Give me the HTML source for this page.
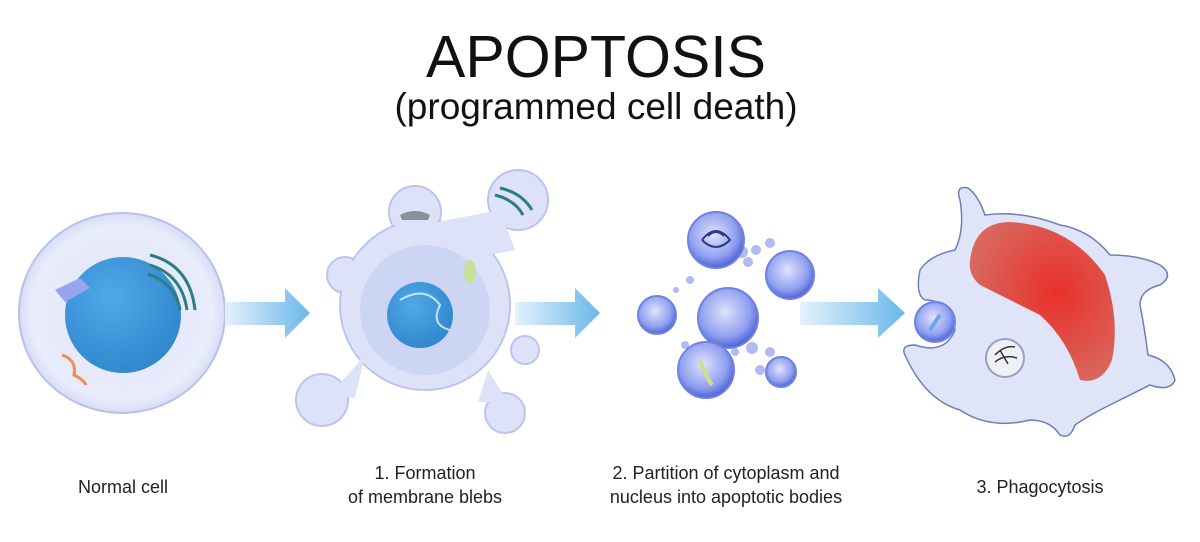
<!DOCTYPE html>
<html><head><meta charset="utf-8"><style>
body{margin:0;background:#fff;width:1200px;height:537px;overflow:hidden;font-family:"Liberation Sans",sans-serif}
</style></head><body>
<svg width="1200" height="537" viewBox="0 0 1200 537" xmlns="http://www.w3.org/2000/svg">
<defs>
<radialGradient id="cyto" cx="50%" cy="50%" r="55%"><stop offset="0" stop-color="#dfe4fa"/><stop offset="0.8" stop-color="#e8ecfb"/><stop offset="1" stop-color="#c9d1f2"/></radialGradient>
<radialGradient id="nuc" cx="40%" cy="35%" r="70%"><stop offset="0" stop-color="#4fa9e8"/><stop offset="1" stop-color="#2f86cc"/></radialGradient>
<radialGradient id="bub" cx="45%" cy="40%" r="60%"><stop offset="0" stop-color="#dfe3fb"/><stop offset="0.7" stop-color="#8f9ff0"/><stop offset="1" stop-color="#4d62d6"/></radialGradient>
<radialGradient id="red" cx="60%" cy="45%" r="60%"><stop offset="0" stop-color="#e8302a"/><stop offset="1" stop-color="#d9675e"/></radialGradient>
<linearGradient id="arr" x1="0" x2="1"><stop offset="0" stop-color="#e4f1fc"/><stop offset="1" stop-color="#6bb7ea"/></linearGradient>
</defs>
<text x="596" y="77" font-size="59" text-anchor="middle" fill="#111">APOPTOSIS</text>
<text x="596" y="119" font-size="37" text-anchor="middle" fill="#111">(programmed cell death)</text>

<ellipse cx="122" cy="313" rx="103" ry="100" fill="url(#cyto)" stroke="#b9c0ea" stroke-width="2"/>
<circle cx="123" cy="315" r="58" fill="url(#nuc)"/>
<path d="M150 255 Q190 265 195 310 M150 265 Q182 275 187 310 M148 274 Q176 284 180 310" stroke="#2d7d86" stroke-width="3" fill="none"/>
<path d="M55 290 l25 -12 l10 10 l-25 14z" fill="#9aa4ee"/>
<path d="M62 355 q15 5 12 20 q10 5 12 10" stroke="#f08c5a" stroke-width="3" fill="none"/>

<path d="M225 302 H285 V288 L310 313 L285 338 V325 H225Z" fill="url(#arr)"/>
<path d="M515 302 H575 V288 L600 313 L575 338 V325 H515Z" fill="url(#arr)"/>
<path d="M800 302 H878 V288 L905 313 L878 338 V325 H800Z" fill="url(#arr)"/>

<g fill="#dde2f8" stroke="#bcc4ee" stroke-width="2">
<circle cx="415" cy="212" r="26"/><circle cx="518" cy="200" r="30"/>
<circle cx="322" cy="400" r="26"/><circle cx="505" cy="413" r="20"/>
<circle cx="345" cy="275" r="18"/><circle cx="525" cy="350" r="14"/>
<circle cx="425" cy="305" r="85"/>
</g>
<g fill="#dde2f8"><circle cx="415" cy="212" r="24"/><circle cx="518" cy="200" r="28"/><circle cx="322" cy="400" r="24"/><circle cx="505" cy="413" r="18"/><circle cx="345" cy="275" r="16"/><circle cx="525" cy="350" r="12"/><path d="M405 228 L500 210 L515 250 L440 265Z"/><path d="M330 395 L365 355 L355 398Z"/><path d="M488 370 L508 402 L478 402Z"/><circle cx="425" cy="305" r="84"/></g>
<circle cx="425" cy="310" r="65" fill="#cdd5f4"/>
<circle cx="420" cy="315" r="33" fill="url(#nuc)"/>
<path d="M400 300 Q425 285 440 305 Q430 325 450 330" stroke="#bfe4f8" stroke-width="2" fill="none"/>
<path d="M495 195 q20 5 28 20 M500 188 q22 5 32 22" stroke="#2d7d86" stroke-width="3" fill="none"/>
<path d="M400 215 q15 -8 30 0 l-2 5 h-26z" fill="#8a8f9c"/>
<ellipse cx="470" cy="272" rx="6" ry="12" fill="#c8e09a"/>

<g fill="#9ea9ee" opacity="0.8">
<circle cx="742" cy="252" r="6"/><circle cx="756" cy="250" r="5"/><circle cx="748" cy="262" r="5"/><circle cx="690" cy="280" r="4"/><circle cx="676" cy="290" r="3"/><circle cx="685" cy="345" r="4"/><circle cx="770" cy="352" r="5"/><circle cx="752" cy="348" r="6"/><circle cx="760" cy="370" r="5"/><circle cx="735" cy="352" r="4"/><circle cx="770" cy="243" r="5"/></g>
<g stroke="#6f82de" stroke-width="2" fill="url(#bub)">
<circle cx="716" cy="240" r="28"/><circle cx="790" cy="275" r="24"/><circle cx="728" cy="318" r="30"/><circle cx="657" cy="315" r="19"/><circle cx="706" cy="370" r="28"/><circle cx="781" cy="372" r="15"/>
</g>
<path d="M702 240 q14 -18 28 0 q-14 14 -28 0 M708 236 q8 -8 16 0" stroke="#2a3a8a" stroke-width="2" fill="none"/>
<path d="M700 360 q5 15 12 25" stroke="#c9e08a" stroke-width="4" fill="none"/>

<path d="M960 200 Q955 185 968 188 Q978 195 985 215 Q1020 210 1060 225 Q1090 230 1110 255 Q1140 255 1160 265 Q1175 275 1160 285 Q1140 290 1140 305 Q1145 330 1148 355 Q1170 360 1175 380 Q1170 392 1150 385 Q1120 400 1100 410 Q1085 418 1075 425 Q1070 440 1060 435 Q1050 420 1030 420 Q990 430 960 410 Q925 400 905 355 Q900 345 915 345 Q945 355 955 330 Q950 300 925 300 Q915 295 920 270 Q930 255 955 250 Q965 230 960 200Z" fill="#dfe4f8" stroke="#6b7fb8" stroke-width="1.5"/>
<path d="M970 260 Q975 222 1010 222 Q1070 225 1105 275 Q1120 320 1112 360 Q1102 385 1080 380 Q1068 340 1040 315 Q1000 295 980 285 Q968 275 970 260Z" fill="url(#red)"/>
<circle cx="935" cy="322" r="20" fill="url(#bub)" stroke="#6f82de" stroke-width="2"/>
<path d="M930 330 l10 -15" stroke="#6aa6e8" stroke-width="4"/>
<circle cx="1005" cy="358" r="19" fill="#eef0f6" stroke="#98a0c0" stroke-width="2"/>
<path d="M995 355 q10 -10 20 -8 M995 362 q10 -8 22 -4 M1000 350 l8 14" stroke="#333" stroke-width="1.5" fill="none"/>

<g font-size="18" fill="#222" text-anchor="middle">
<text x="123" y="493">Normal cell</text>
<text x="425" y="479">1. Formation</text>
<text x="425" y="503">of membrane blebs</text>
<text x="726" y="479">2. Partition of cytoplasm and</text>
<text x="726" y="503">nucleus into apoptotic bodies</text>
<text x="1040" y="493">3. Phagocytosis</text>
</g>
</svg>
</body></html>
